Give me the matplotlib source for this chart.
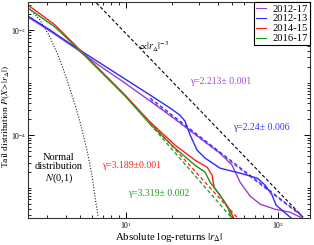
import numpy as np
import matplotlib
matplotlib.use("Agg")
import matplotlib.pyplot as plt
from matplotlib.ticker import FixedLocator, LogLocator, NullFormatter

# ---------------- data ----------------
# 2012-17 (all years)
x_all = [2.26, 3.16, 4.62, 6.75, 9.85, 14.4, 21.0, 30.7, 41.5, 49.8, 56.2, 65.5, 76.2, 95.5, 120, 140, 150]
y_all = [0.0177, 0.00957, 0.00454, 0.00206, 9.77e-4, 4.45e-4, 2.02e-4, 8.77e-5, 4.54e-5,
         2.68e-5, 1.27e-5, 6.9e-6, 4.85e-6, 3.89e-6, 3.41e-6, 2.74e-6, 2.5e-6]
# 2012-13
x_1213 = [2.26, 3.16, 4.62, 6.75, 9.85, 14.4, 19.5, 22.6, 24.4, 26.4, 29.3, 33.1, 41.5, 56.2,
          72.8, 82.1, 91.3, 97.0, 120, 125]
y_1213 = [0.0185, 0.0100, 0.00474, 0.00235, 0.001167, 5.78e-4, 3.27e-4, 2.40e-4, 1.85e-4, 1.0e-4,
          5.18e-5, 3.65e-5, 2.35e-5, 1.89e-5, 1.52e-5, 1.12e-5, 7.2e-6, 4.64e-6, 2.74e-6, 2.5e-6]
# 2014-15
x_1415 = [2.26, 2.72, 3.41, 4.62, 6.75, 9.85, 14.4, 21.0, 28.4, 34.1, 36.8, 37.9, 42.8, 48.3, 50.6, 52]
y_1415 = [0.0299, 0.0202, 0.01245, 0.00518, 0.00173, 5.78e-4, 1.77e-4, 6.45e-5, 3.34e-5, 2.46e-5,
          1.73e-5, 1.02e-5, 6.3e-6, 3.73e-6, 2.74e-6, 2.5e-6]
# 2016-17
x_1617 = [2.26, 3.41, 4.62, 6.75, 9.85, 14.4, 21.0, 28.4, 33.1, 35.7, 41.5, 46.9, 49.1, 50]
y_1617 = [0.0262, 0.0114, 0.00495, 0.001655, 5.53e-4, 1.62e-4, 5.65e-5, 2.68e-5, 1.97e-5,
          1.27e-5, 7.2e-6, 4.07e-6, 2.74e-6, 2.5e-6]
# normal distribution N(0,1)
x_norm = [2.26, 2.72, 3.16, 3.68, 4.09, 4.62, 4.98, 5.53, 5.97, 6.25, 6.55]
y_norm = [0.0274, 0.0155, 0.00736, 0.00268, 0.00112, 3.73e-4, 1.77e-4, 5.18e-5, 1.73e-5, 6.6e-6, 2.74e-6]

# fitted power laws (end points of the dashed lines)
fit_all_x = [14.4, 144];  fit_all_y = [4.64e-4, 2.84e-6]
fit_1213_x = [14.4, 144]; fit_1213_y = [5.07e-4, 2.92e-6]
fit_1415_x = [14.4, 54];  fit_1415_y = [1.78e-4, 2.67e-6]
fit_1617_x = [14.4, 50];  fit_1617_y = [1.62e-4, 2.58e-6]
# inverse cubic law guide
guide_x = [4.0, 146];     guide_y = [0.133, 2.74e-6]

labels = ["2012-17", "2012-13", "2014-15", "2016-17"]
gamma_txt = ["\u03b3=2.213\u00b1 0.001", "\u03b3=2.24\u00b1 0.006",
             "\u03b3=3.189\u00b10.001", "\u03b3=3.319\u00b1 0.002"]

# ---------------- style ----------------
plt.rcParams['font.family'] = ['Liberation Serif', 'DejaVu Serif']
plt.rcParams['mathtext.fontset'] = 'stix'

c_all, c_1213, c_1415, c_1617 = "#9a3ed6", "#2b2bff", "#ff1a1a", "#1a9a1a"

W, H = 314, 245
fig = plt.figure(figsize=(W / 100, H / 100), dpi=100)
ax = fig.add_axes([28 / W, 1 - 217.5 / H, (310 - 28) / W, (217.5 - 2) / H])
ax.set_xscale('log')
ax.set_yscale('log')

lw = 1.0
ax.plot(x_norm, y_norm, color="#222222", lw=0.8, ls=(0, (1, 1.5)))
ax.plot(guide_x, guide_y, color="black", lw=0.8, ls=(0, (3, 2)))
l1, = ax.plot(x_all, y_all, color=c_all, lw=lw, label=labels[0])
l2, = ax.plot(x_1213, y_1213, color=c_1213, lw=lw, label=labels[1])
l3, = ax.plot(x_1415, y_1415, color=c_1415, lw=lw, label=labels[2])
l4, = ax.plot(x_1617, y_1617, color=c_1617, lw=lw, label=labels[3])
ax.plot(fit_all_x, fit_all_y, color=c_all, lw=0.9, ls=(0, (3, 2)))
ax.plot(fit_1213_x, fit_1213_y, color=c_1213, lw=0.9, ls=(0, (3, 2)))
ax.plot(fit_1415_x, fit_1415_y, color=c_1415, lw=0.9, ls=(0, (3, 2)))
ax.plot(fit_1617_x, fit_1617_y, color=c_1617, lw=0.9, ls=(0, (3, 2)))

ax.set_xlim(2.265, 162)
ax.set_ylim(2.71e-6, 0.0341)

ax.xaxis.set_major_locator(FixedLocator([10, 100]))
ax.xaxis.set_minor_locator(LogLocator(base=10, subs=np.arange(2, 10), numticks=20))
ax.xaxis.set_minor_formatter(NullFormatter())
ax.yaxis.set_major_locator(FixedLocator([1e-2, 1e-4, 1e-6]))
ax.yaxis.set_minor_locator(LogLocator(base=10, subs=np.arange(1, 10), numticks=20))
ax.yaxis.set_minor_formatter(NullFormatter())
ax.tick_params(which='both', direction='in', top=True, right=True, labelsize=5.6, pad=2)
ax.tick_params(axis='y', which='major', pad=1.0)
ax.tick_params(which='major', length=4, width=0.7)
ax.tick_params(which='minor', length=2, width=0.6)
for s in ax.spines.values():
    s.set_linewidth(0.8)
    s.set_color("#333333")

ax.set_xlabel(r'Absolute log-returns $|r_{\Delta}|$', fontsize=7.8, labelpad=0)
ax.set_ylabel(r'Tail distribution $P(X\!>\!|r_{\Delta}|)$', fontsize=6.8,
              va='center', ha='center')
ax.yaxis.set_label_coords(-21.6 / 282, 0.47)

leg = ax.legend(handles=[l1, l2, l3, l4], loc='upper right', bbox_to_anchor=(1, 1),
                borderaxespad=0, fontsize=7.6, handlelength=1.0, handletextpad=0.6,
                labelspacing=0.05, borderpad=0.2, fancybox=False, framealpha=1,
                edgecolor='black')
leg.get_frame().set_linewidth(0.8)
for h in leg.get_lines():
    h.set_linewidth(0.8)


def fpos(px, py):
    return px / W, 1 - py / H


fig.text(*fpos(138, 47), r'$\propto\!|r_{\Delta}|^{-3}$', fontsize=7, ha='left', va='center')
fig.text(*fpos(190, 82), gamma_txt[0], color="#a24ae0", fontsize=7, ha='left', va='center')
fig.text(*fpos(233, 127), gamma_txt[1], color="#3535ff", fontsize=7, ha='left', va='center')
fig.text(*fpos(102, 165), gamma_txt[2], color="#ff2020", fontsize=7, ha='left', va='center')
fig.text(*fpos(128, 194), gamma_txt[3], color="#1f9f1f", fontsize=7, ha='left', va='center')
fig.text(*fpos(59, 169), "Normal\ndistribution\n$N$(0,1)", fontsize=7.5, ha='center', va='center',
         linespacing=1.0)

fig.savefig("out.png", dpi=100)
